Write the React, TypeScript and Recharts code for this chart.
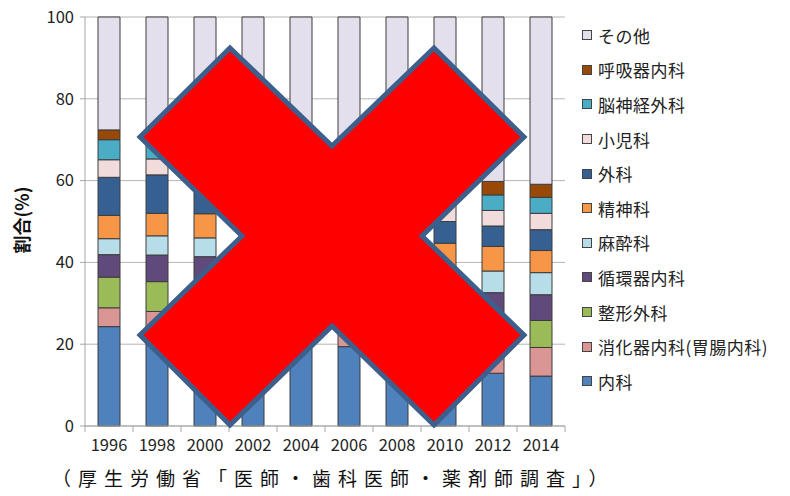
import React from 'react'
import { BarChart, Bar, XAxis, YAxis, CartesianGrid, Legend } from 'recharts'

// 年次
const years = ['1996', '1998', '2000', '2002', '2004', '2006', '2008', '2010', '2012', '2014']

// 診療科別の割合(%)、積み上げ順(下から)
const naika = [24.3, 23.8, 23.0, 22.2, 20.8, 19.4, 13.8, 13.3, 12.9, 12.2]
const shokaki = [4.6, 4.2, 4.5, 4.5, 4.5, 4.6, 6.3, 6.5, 6.5, 7.0]
const seikei = [7.5, 7.3, 7.2, 7.1, 7.1, 7.1, 6.9, 7.0, 7.0, 6.6]
const junkanki = [5.5, 6.5, 6.7, 6.8, 6.9, 7.0, 6.0, 6.2, 6.2, 6.3]
const masui = [3.9, 4.7, 4.6, 4.7, 4.8, 4.9, 4.8, 5.2, 5.3, 5.4]
const seishin = [5.7, 5.5, 5.9, 6.1, 6.3, 6.5, 5.6, 6.5, 6.0, 5.4]
const geka = [9.3, 9.4, 9.2, 8.9, 8.6, 8.3, 5.2, 5.3, 5.0, 5.1]
const shoni = [4.3, 3.9, 3.8, 3.8, 3.8, 3.8, 3.9, 3.9, 3.8, 4.0]
const noshinkei = [4.9, 4.6, 4.5, 4.5, 4.4, 4.3, 3.8, 3.8, 3.8, 3.9]
const kokyuki = [2.4, 2.5, 2.6, 2.7, 2.8, 2.9, 3.0, 3.2, 3.3, 3.2]
const sonota = [27.6, 27.6, 28.0, 28.7, 30.0, 31.2, 40.7, 39.1, 40.2, 40.9]

const yTicks = [0, 20, 40, 60, 80, 100]

const series = [
  { key: 'naika', name: '内科', values: naika, color: '#4f81bd' },
  { key: 'shokaki', name: '消化器内科(胃腸内科)', values: shokaki, color: '#d99694' },
  { key: 'seikei', name: '整形外科', values: seikei, color: '#9bbb59' },
  { key: 'junkanki', name: '循環器内科', values: junkanki, color: '#604a7b' },
  { key: 'masui', name: '麻酔科', values: masui, color: '#b7dee8' },
  { key: 'seishin', name: '精神科', values: seishin, color: '#f79646' },
  { key: 'geka', name: '外科', values: geka, color: '#376092' },
  { key: 'shoni', name: '小児科', values: shoni, color: '#f2dcdb' },
  { key: 'noshinkei', name: '脳神経外科', values: noshinkei, color: '#4bacc6' },
  { key: 'kokyuki', name: '呼吸器内科', values: kokyuki, color: '#984807' },
  { key: 'sonota', name: 'その他', values: sonota, color: '#e4dfec' },
]

const data = years.map((year, i) => {
  const row: Record<string, string | number> = { year }
  series.forEach((s) => {
    row[s.key] = s.values[i]
  })
  return row
})

const FONT = '"Noto Sans CJK JP", "Noto Sans", sans-serif'
const AXIS = '#a6a6a6'

const XTick = (props: any) => {
  const { x, y, payload, index } = props
  const half = 24
  return (
    <g>
      <line x1={x - half} y1={y} x2={x - half} y2={y + 6} stroke={AXIS} />
      {index === years.length - 1 && (
        <line x1={x + half} y1={y} x2={x + half} y2={y + 6} stroke={AXIS} />
      )}
      <text
        x={x}
        y={y + 25}
        textAnchor="middle"
        fontSize={16.5}
        fill="#222"
        fontFamily={FONT}
      >
        {payload.value}
      </text>
    </g>
  )
}

const LegendList = () => (
  <div style={{ fontFamily: FONT, fontSize: 17, color: '#222' }}>
    {[...series].reverse().map((s) => (
      <div
        key={s.key}
        style={{ height: 34.6, display: 'flex', alignItems: 'center' }}
      >
        <span
          style={{
            width: 8,
            height: 8,
            background: s.color,
            border: '1px solid #444',
            marginRight: 6,
            display: 'inline-block',
          }}
        />
        <span style={{ letterSpacing: 0.5 }}>{s.name}</span>
      </div>
    ))}
  </div>
)

const CrossMark = () => (
  <svg
    width={790}
    height={496}
    style={{ position: 'absolute', left: 0, top: 0, pointerEvents: 'none' }}
  >
    <polygon
      points="230,48 332,146 434,48 524,137 422,236 524,335 434,425 332,326 230,425 140,335 242,236 140,137"
      fill="#ff0000"
      stroke="#3d5f8c"
      strokeWidth={5}
      strokeLinejoin="miter"
    />
  </svg>
)

export default function App() {
  return (
    <div
      style={{
        position: 'absolute',
        left: 0,
        top: 0,
        width: 790,
        height: 496,
        background: '#fff',
        fontFamily: FONT,
      }}
    >
      <BarChart
        width={790}
        height={496}
        data={data}
        margin={{ top: 17, right: 15, bottom: 40, left: 0 }}
        barSize={22}
      >
        <CartesianGrid vertical={false} stroke="#b4b4b4" />
        <XAxis
          dataKey="year"
          stroke={AXIS}
          tickLine={false}
          tickSize={0}
          tickMargin={0}
          tick={<XTick />}
          interval={0}
        />
        <YAxis
          domain={[0, 100]}
          ticks={yTicks}
          width={85}
          stroke={AXIS}
          tickSize={5}
          tickMargin={6}
          tick={{ fontSize: 16.5, fill: '#222', fontFamily: FONT }}
        />
        <Legend
          layout="vertical"
          align="right"
          verticalAlign="top"
          content={<LegendList />}
          wrapperStyle={{ position: 'absolute', left: 582, top: 18, width: 210 }}
        />
        {series.map((s) => (
          <Bar
            key={s.key}
            dataKey={s.key}
            name={s.name}
            stackId="a"
            fill={s.color}
            stroke="#3c3c3c"
            strokeWidth={1}
            isAnimationActive={false}
          />
        ))}
      </BarChart>
      <div
        style={{
          position: 'absolute',
          left: 13,
          top: 220,
          transform: 'translate(-50%, -50%) rotate(-90deg)',
          fontSize: 18,
          fontWeight: 'bold',
          whiteSpace: 'nowrap',
          color: '#111',
          marginLeft: 8,
        }}
      >
        割合(%)
      </div>
      <div
        style={{
          position: 'absolute',
          left: 52,
          top: 464,
          fontSize: 19,
          letterSpacing: 7,
          whiteSpace: 'nowrap',
          color: '#111',
        }}
      >
        （厚生労働省「医師・歯科医師・薬剤師調査」）
      </div>
      <CrossMark />
    </div>
  )
}
